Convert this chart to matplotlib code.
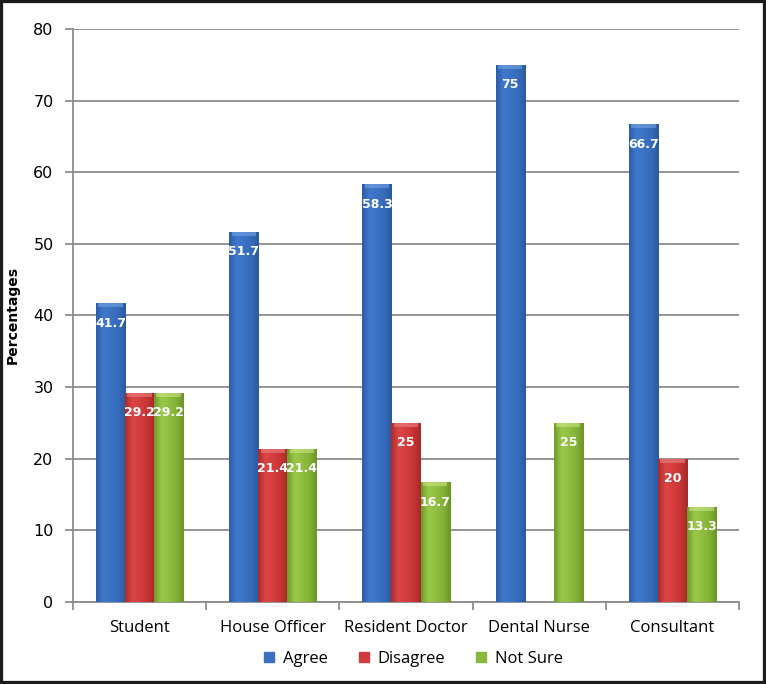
import matplotlib
matplotlib.use("Agg")
import matplotlib.pyplot as plt
import numpy as np
from matplotlib.colors import LinearSegmentedColormap
from matplotlib.patches import Rectangle
from matplotlib.lines import Line2D

categories = ["Student", "House Officer", "Resident Doctor", "Dental Nurse", "Consultant"]
series_names = ["Agree", "Disagree", "Not Sure"]
agree = [41.7, 51.7, 58.3, 75, 66.7]
disagree = [29.2, 21.4, 25, 0, 20]
not_sure = [29.2, 21.4, 16.7, 25, 13.3]
yticks = [0, 10, 20, 30, 40, 50, 60, 70, 80]

series = [agree, disagree, not_sure]
base_colors = ["#3a70c2", "#d03b3b", "#8ab83c"]
grads = [
    ["#2d5ca6", "#4079cc", "#3b72c4", "#366bba", "#2b599f"],
    ["#ad2a2a", "#dc4646", "#d43d3d", "#c83535", "#a82828"],
    ["#6e9a2a", "#9bc84a", "#8fbe40", "#84b238", "#6a9526"],
]
caps = ["#7aa8e6", "#ef8a8a", "#d0e88a"]

fig = plt.figure(figsize=(7.66, 6.84), dpi=100)
ax = fig.add_axes([0.0953, 0.1199, 0.8695, 0.8377])

x = np.arange(len(categories))
w = 0.218
grid_c = "#8c8c8c"
for i, (vals, col, g) in enumerate(zip(series, base_colors, grads)):
    bars = ax.bar(x + (i - 1) * w, vals, width=w, color=col, zorder=3, linewidth=0)
    cmap = LinearSegmentedColormap.from_list("g%d" % i, g)
    grad = np.linspace(0, 1, 64).reshape(1, -1)
    for b, v in zip(bars, vals):
        if v <= 0:
            continue
        x0, y0 = b.get_x(), b.get_y()
        im = ax.imshow(grad, cmap=cmap, aspect="auto", zorder=4,
                       extent=[x0, x0 + b.get_width(), y0, y0 + b.get_height()],
                       interpolation="bicubic")
        im.set_clip_path(b)
        cap = Rectangle((x0 + b.get_width() * 0.08, v - 0.55), b.get_width() * 0.84, 0.55,
                        facecolor=caps[i], edgecolor="none", alpha=0.55, zorder=5)
        ax.add_patch(cap)
        ax.text(b.get_x() + b.get_width() / 2, v - 2.8, f"{v:g}", ha="center", va="center",
                color="white", fontsize=9, fontweight="bold", zorder=6,
                family=["DejaVu Sans"])

ax.set_xlim(-0.5, len(categories) - 0.5)
ax.set_ylim(0, 80)
ax.set_yticks(yticks)
ax.set_yticklabels([str(t) for t in yticks], fontsize=11.5, family=["DejaVu Sans"])
ax.yaxis.grid(True, color=grid_c, linewidth=1.3, zorder=0)
ax.set_axisbelow(True)
ax.set_xticks(x)
ax.set_xticklabels(categories, fontsize=12, family=["Open Sans"])
ax.set_xticks(np.arange(-0.5, len(categories)), minor=True)
ax.tick_params(axis="x", which="major", length=0, pad=13)
ax.tick_params(axis="x", which="minor", length=6, color=grid_c, width=1.3, direction="out")
ax.tick_params(axis="y", length=6, color=grid_c, width=1.3, direction="out", pad=8)
for s in ["top", "right"]:
    ax.spines[s].set_visible(False)
for s in ["left", "bottom"]:
    ax.spines[s].set_color(grid_c)
    ax.spines[s].set_linewidth(1.3)

ax.set_ylabel("Percentages", fontsize=10, fontweight="bold", family=["DejaVu Sans"])
ax.yaxis.set_label_coords(-0.08, 0.5)

handles = [Line2D([0], [0], marker="s", color="none", markerfacecolor=c, markeredgecolor=c,
                  markersize=7) for c in base_colors]
leg = fig.legend(handles, series_names, loc="center", bbox_to_anchor=(0.535, 0.037), ncol=3,
                 frameon=False, handletextpad=0.1, columnspacing=1.4, handlelength=1.5,
                 prop={"family": "Open Sans", "size": 12})

fig.patches.append(Rectangle((0, 0), 1, 1, transform=fig.transFigure, fill=False,
                             edgecolor="#1c1c1c", linewidth=4.5, zorder=10))

fig.savefig("out.png", dpi=100)
